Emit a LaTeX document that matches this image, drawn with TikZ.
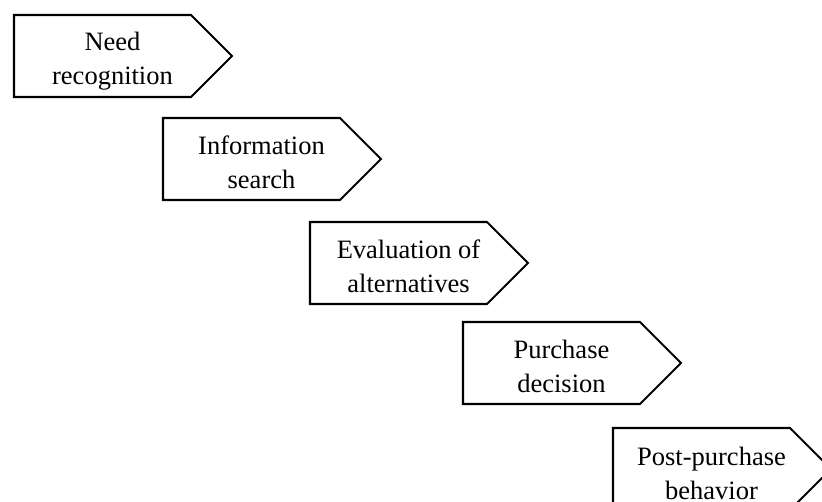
\documentclass[tikz,border=0pt]{standalone}
\usepackage{fontspec}
\setmainfont{Liberation Serif}
\newcommand\topstrut{\rule[-8pt]{0pt}{28pt}}
\newcommand\botstrut{\rule[-3pt]{0pt}{23pt}}
\tikzset{
  stageshape/.style={draw=black, line width=2.1pt, fill=white, line join=miter},
  stagelabel/.style={font=\fontsize{26.5}{34}\selectfont, align=center, inner sep=0pt}
}
\newcommand\stagebox[4]{%
  \draw[stageshape] (#2,#3) -- ++(177,0) -- ++(41,41) -- ++(-41,41) -- ++(-177,0) -- cycle;
  \node[stagelabel] (#1) at (#2+98.5,#3+45.5) {\topstrut #4\botstrut};
}
\begin{document}
\begin{tikzpicture}[x=1pt,y=-1pt]
  \useasboundingbox (0,0) rectangle (822,502);
  \clip (0,0) rectangle (822,502);
  \fill[white] (0,0) rectangle (822,502);
  \stagebox{need}{14}{15}{Need\\recognition}
  \stagebox{info}{163}{118}{Information\\search}
  \stagebox{eval}{310}{222}{Evaluation of\\alternatives}
  \stagebox{purch}{463}{322}{Purchase\\decision}
  \stagebox{post}{613}{428}{Post-purchase\\behavior}
\end{tikzpicture}
\end{document}
